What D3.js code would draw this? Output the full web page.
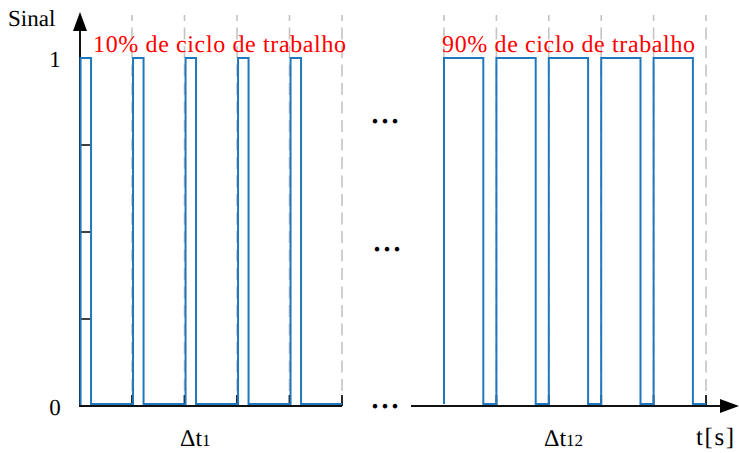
<!DOCTYPE html>
<html>
<head>
<meta charset="utf-8">
<script src="https://cdn.jsdelivr.net/npm/d3@7/dist/d3.min.js"></script>
<style>
  html, body { margin: 0; padding: 0; background: #fff; }
  svg { display: block; }
  text { text-rendering: geometricPrecision; }
</style>
</head>
<body>
<svg id="chart" width="739" height="453"></svg>
<script>
// ---- data ----
const yTicks = [0, 0.25, 0.5, 0.75, 1];
const yTickLabels = ["0", "1"];
const periodBounds = [0, 1, 2, 3, 4, 5];

// left panel: 10% duty cycle (pulse on / off times, in periods)
const leftOn  = [0.02, 1.02, 2.02, 3.02, 4.02];
const leftOff = [0.22, 1.22, 2.22, 3.22, 4.22];
// right panel: 90% duty cycle
const rightOn  = [0.0, 1.0, 2.0, 3.0, 4.0];
const rightOff = [0.75, 1.75, 2.75, 3.75, 4.75];

const dutyLabels = ["10% de ciclo de trabalho", "90% de ciclo de trabalho"];
const intervalNames = ["Δt", "Δt"];
const intervalSubs = ["1", "12"];
const yAxisTitle = "Sinal";
const xAxisTitle = "t[s]";
const ellipsis = "...";

// ---- layout ----
const FONT = "Liberation Serif";
const svg = d3.select("#chart").attr("font-family", FONT);
const blue = "#1f77c0";
const axisColor = "#111";

const y = d3.scaleLinear().domain([0, 1]).range([406, 58]);
const xLeft = d3.scaleLinear().domain([0, 5]).range([79.5, 342]);
const xRight = d3.scaleLinear().domain([0, 5]).range([444, 706]);

function signalPoints(on, off) {
  const pts = [[0, 0]];
  on.forEach((t, i) => {
    pts.push([t, 0], [t, 1], [off[i], 1], [off[i], 0]);
  });
  pts.push([5, 0]);
  return pts;
}

// dashed period lines
function dashed(x, bounds) {
  svg.append("g").selectAll("line").data(bounds).join("line")
    .attr("x1", d => x(d)).attr("x2", d => x(d))
    .attr("y1", 15).attr("y2", 395)
    .attr("stroke", "#c4c4c4").attr("stroke-width", 1.6)
    .attr("stroke-dasharray", "12,6.5").attr("stroke-dashoffset", 6);
}
dashed(xLeft, periodBounds.slice(1));
dashed(xRight, periodBounds);

// x axes
svg.append("line").attr("x1", xLeft(0)).attr("x2", xLeft(5))
  .attr("y1", y(0)).attr("y2", y(0)).attr("stroke", axisColor).attr("stroke-width", 2);
svg.append("line").attr("x1", 411).attr("x2", 722)
  .attr("y1", y(0)).attr("y2", y(0)).attr("stroke", axisColor).attr("stroke-width", 2);
svg.append("path")
  .attr("d", `M739,${y(0)} L720,${y(0) - 7} L720,${y(0) + 7} Z`).attr("fill", "#000");

// period tick stubs on x axes
[xLeft, xRight].forEach(x => {
  svg.append("g").selectAll("line").data(periodBounds.slice(1)).join("line")
    .attr("x1", d => x(d)).attr("x2", d => x(d))
    .attr("y1", y(0)).attr("y2", y(0) - 11)
    .attr("stroke", axisColor).attr("stroke-width", 1.8);
});

// y axis
svg.append("line").attr("x1", 80).attr("x2", 80)
  .attr("y1", y(0) + 1).attr("y2", 28).attr("stroke", axisColor).attr("stroke-width", 2);
svg.append("path").attr("d", "M80,12 L73,31 L87,31 Z").attr("fill", "#000");
svg.append("g").selectAll("line").data(yTicks.filter(d => d > 0 && d < 1)).join("line")
  .attr("x1", 80).attr("x2", 91)
  .attr("y1", d => y(d)).attr("y2", d => y(d))
  .attr("stroke", axisColor).attr("stroke-width", 1.6);
svg.append("g").selectAll("text").data([0, 1]).join("text")
  .attr("x", 55).attr("y", d => y(d) + 9)
  .attr("font-family", FONT)
  .attr("text-anchor", "middle").attr("font-size", 23).attr("fill", "#000")
  .text((d, i) => yTickLabels[i]);

// signals
const line = (x) => d3.line().x(d => x(d[0])).y(d => y(d[1]) - (d[1] === 0 ? 2 : 0));
svg.append("path").datum(signalPoints(leftOn, leftOff))
  .attr("d", line(xLeft)).attr("fill", "none").attr("stroke", blue)
  .attr("stroke-width", 2).attr("stroke-linejoin", "miter");
svg.append("path").datum(signalPoints(rightOn, rightOff).slice(1))
  .attr("d", line(xRight)).attr("fill", "none").attr("stroke", blue)
  .attr("stroke-width", 2).attr("stroke-linejoin", "miter");

// duty labels
svg.append("text").attr("x", 93).attr("y", 52).attr("font-size", 24)
  .attr("font-family", FONT).attr("textLength", 253).attr("lengthAdjust", "spacing")
  .attr("fill", "#ff0000").text(dutyLabels[0]);
svg.append("text").attr("x", 442).attr("y", 52).attr("font-size", 24)
  .attr("font-family", FONT).attr("textLength", 253).attr("lengthAdjust", "spacing")
  .attr("fill", "#ff0000").text(dutyLabels[1]);

// titles
svg.append("text").attr("x", 8).attr("y", 26).attr("font-size", 23)
  .attr("font-family", FONT).text(yAxisTitle);
svg.append("text").attr("x", 696).attr("y", 445).attr("font-size", 25)
  .attr("font-family", FONT).attr("textLength", 38).attr("lengthAdjust", "spacing")
  .text(xAxisTitle);

// interval labels
[[180, 0], [544, 1]].forEach(([x0, i]) => {
  const t = svg.append("text").attr("x", x0).attr("y", 446).attr("font-size", 24)
    .attr("font-family", FONT);
  t.append("tspan").text(intervalNames[i]);
  t.append("tspan").attr("font-size", 17).text(intervalSubs[i]);
});

// ellipses
[[386.5, 122.7], [388.5, 250.7], [386.5, 408]].forEach(([cx, by]) => {
  svg.append("text").attr("x", cx).attr("y", by).attr("text-anchor", "middle")
    .attr("font-family", FONT)
    .attr("font-size", 28).attr("font-weight", "bold").attr("letter-spacing", 3)
    .text(ellipsis);
});
</script>
</body>
</html>
